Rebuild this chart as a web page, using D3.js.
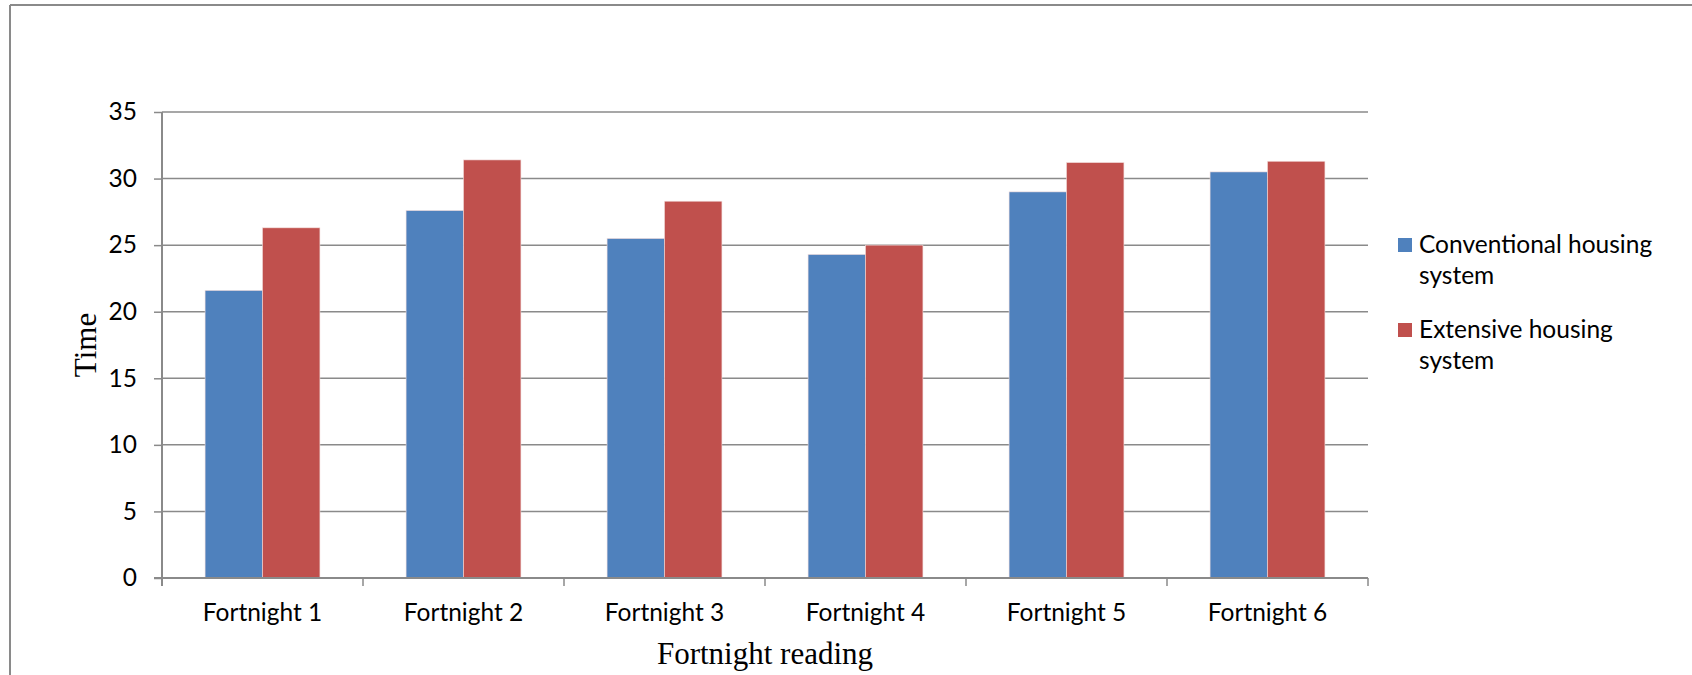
<!DOCTYPE html>
<html>
<head>
<meta charset="utf-8">
<script src="https://cdn.jsdelivr.net/npm/d3@7"></script>
<style>
  body { margin: 0; background: #fff; }
  svg { display: block; }
  .tick text { font-family: Lato, "Noto Sans", sans-serif; font-size: 24.5px; fill: #000; }
</style>
</head>
<body>
<div id="vis"></div>
<script>
const FRAME_WIDTH = 1692;
const FRAME_HEIGHT = 675;
const MARGINS = {left: 162, right: 324, top: 112, bottom: 97};

const VIS_WIDTH = FRAME_WIDTH - MARGINS.left - MARGINS.right;
const VIS_HEIGHT = FRAME_HEIGHT - MARGINS.top - MARGINS.bottom;

// data
const CATEGORIES = ["Fortnight 1", "Fortnight 2", "Fortnight 3", "Fortnight 4", "Fortnight 5", "Fortnight 6"];
const SERIES_NAMES = ["Conventional housing system", "Extensive housing system"];
const CONVENTIONAL = [21.6, 27.6, 25.5, 24.3, 29.0, 30.5];
const EXTENSIVE = [26.3, 31.4, 28.3, 25.0, 31.2, 31.3];
const Y_TICKS = [0, 5, 10, 15, 20, 25, 30, 35];
const LEGEND_LINES = [["Conventional housing", "system"], ["Extensive housing", "system"]];

const COLORS = ["#4F81BD", "#C0504D"];
const GRID = "#8a8a8a";

const data = CATEGORIES.map((c, i) => ({category: c, values: [CONVENTIONAL[i], EXTENSIVE[i]]}));

const FRAME = d3.select("#vis")
  .append("svg")
    .attr("width", FRAME_WIDTH)
    .attr("height", FRAME_HEIGHT);

// outer chart border (top and left only visible)
FRAME.append("line")
  .attr("x1", 10).attr("x2", FRAME_WIDTH).attr("y1", 5).attr("y2", 5)
  .attr("stroke", GRID).attr("stroke-width", 2);
FRAME.append("line")
  .attr("x1", 10).attr("x2", 10).attr("y1", 5).attr("y2", FRAME_HEIGHT)
  .attr("stroke", GRID).attr("stroke-width", 2);

const X_SCALE = d3.scaleBand()
  .domain(CATEGORIES)
  .range([0, VIS_WIDTH])
  .paddingInner(0)
  .paddingOuter(0);

// Excel-ish gap width 150%: band = 2 bars + 1.5 bar
const BAR_W = X_SCALE.bandwidth() / 3.5;
const X_SUB = d3.scaleBand()
  .domain([0, 1])
  .range([BAR_W * 0.75, BAR_W * 2.75]);

const Y_SCALE = d3.scaleLinear()
  .domain([0, 35])
  .range([VIS_HEIGHT, 0]);

const G = FRAME.append("g")
  .attr("transform", "translate(" + MARGINS.left + "," + MARGINS.top + ")");

// gridlines
G.selectAll(".grid")
  .data(Y_TICKS.filter(d => d > 0))
  .enter()
  .append("line")
    .attr("x1", 0).attr("x2", VIS_WIDTH)
    .attr("y1", d => Y_SCALE(d)).attr("y2", d => Y_SCALE(d))
    .attr("stroke", GRID).attr("stroke-width", 1.5);

// bars
const groups = G.selectAll(".cat")
  .data(data)
  .enter()
  .append("g")
    .attr("transform", d => "translate(" + X_SCALE(d.category) + ",0)");

groups.selectAll("rect")
  .data(d => d.values)
  .enter()
  .append("rect")
    .attr("x", (d, i) => X_SUB(i))
    .attr("width", X_SUB.bandwidth())
    .attr("y", d => Y_SCALE(d))
    .attr("height", d => VIS_HEIGHT - Y_SCALE(d))
    .attr("fill", (d, i) => COLORS[i])
    .attr("stroke", "#f2dcdb")
    .attr("stroke-width", 0.6);

// y axis
const yAxis = G.append("g")
  .call(d3.axisLeft(Y_SCALE).tickValues(Y_TICKS).tickSize(8).tickPadding(17));
yAxis.selectAll("line").attr("stroke", GRID).attr("stroke-width", 1.5);
yAxis.select(".domain").attr("stroke", GRID).attr("stroke-width", 2)
  .attr("d", "M0," + (VIS_HEIGHT + 8) + "V0");

// x axis (ticks on band edges)
const xAxis = G.append("g")
  .attr("transform", "translate(0," + VIS_HEIGHT + ")");
xAxis.append("line")
  .attr("x1", -8).attr("x2", VIS_WIDTH)
  .attr("stroke", GRID).attr("stroke-width", 2);
xAxis.selectAll(".xt")
  .data(CATEGORIES.concat(["end"]))
  .enter()
  .append("line")
    .attr("x1", (d, i) => i * X_SCALE.step())
    .attr("x2", (d, i) => i * X_SCALE.step())
    .attr("y1", 0).attr("y2", 8)
    .attr("stroke", GRID).attr("stroke-width", 1.5);
xAxis.selectAll(".xl")
  .data(CATEGORIES)
  .enter()
  .append("text")
    .attr("x", d => X_SCALE(d) + X_SCALE.bandwidth() / 2)
    .attr("y", 43)
    .attr("text-anchor", "middle")
    .attr("font-family", "Lato, 'Noto Sans', sans-serif")
    .attr("font-size", 24.5)
    .text(d => d);

// axis titles
FRAME.append("text")
  .attr("x", MARGINS.left + VIS_WIDTH / 2)
  .attr("y", 664)
  .attr("text-anchor", "middle")
  .attr("font-family", "'Liberation Serif', 'DejaVu Serif', serif")
  .attr("font-size", 31)
  .text("Fortnight reading");

FRAME.append("text")
  .attr("transform", "translate(96," + (MARGINS.top + VIS_HEIGHT / 2) + ") rotate(-90)")
  .attr("text-anchor", "middle")
  .attr("font-family", "'Liberation Serif', 'DejaVu Serif', serif")
  .attr("font-size", 31)
  .text("Time");

// legend
const legend = FRAME.selectAll(".legend")
  .data(SERIES_NAMES)
  .enter()
  .append("g")
    .attr("transform", (d, i) => "translate(1398," + (238 + i * 85) + ")");

legend.append("rect")
  .attr("width", 14).attr("height", 14)
  .attr("fill", (d, i) => COLORS[i]);

legend.each(function(d, i) {
  d3.select(this).selectAll("text")
    .data(LEGEND_LINES[i])
    .enter()
    .append("text")
      .attr("x", 21)
      .attr("y", (t, j) => 15 + j * 31)
      .attr("font-family", "Lato, 'Noto Sans', sans-serif")
      .attr("font-size", 24.5)
      .text(t => t);
});
</script>
</body>
</html>
